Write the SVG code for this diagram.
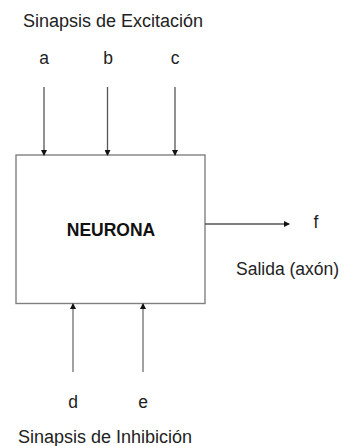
<svg xmlns="http://www.w3.org/2000/svg" width="348" height="446" viewBox="0 0 348 446">
<style>
text{font-family:"Liberation Sans",Arial,sans-serif;font-size:17.5px;fill:#222}
.t{font-size:18px}
.c{text-anchor:middle}
.b{font-weight:bold;fill:#111}
.ln{stroke:#555;stroke-width:1.3;fill:none}
.lg{stroke:#8a8a8a;stroke-width:1.6;fill:none}
</style>
<defs>
<marker id="ah" markerWidth="6" markerHeight="6" refX="5" refY="3" orient="auto" markerUnits="userSpaceOnUse">
<path d="M0,0 L6,3 L0,6 Z" fill="#111"/>
</marker>
</defs>
<rect width="348" height="446" fill="#fff"/>
<text x="23" y="27" class="t">Sinapsis de Excitación</text>
<text x="44" y="64" class="c">a</text>
<text x="108" y="64" class="c">b</text>
<text x="175" y="64" class="c">c</text>
<g id="neurona">
<rect x="16" y="155" width="189" height="148.5" fill="#fff" stroke="#808080" stroke-width="1.4"/>
<text x="111" y="236" class="c b">NEURONA</text>
</g>
<g id="connectors">
<line x1="44" y1="87" x2="44" y2="155" class="ln" marker-end="url(#ah)"/>
<line x1="107.5" y1="87" x2="107.5" y2="155" class="ln" marker-end="url(#ah)"/>
<line x1="175" y1="87" x2="175" y2="155" class="ln" marker-end="url(#ah)"/>
<line x1="205" y1="224" x2="289" y2="224" class="ln" marker-end="url(#ah)"/>
<line x1="73" y1="372" x2="73" y2="304" class="lg" marker-end="url(#ah)"/>
<line x1="143" y1="372" x2="143" y2="304" class="lg" marker-end="url(#ah)"/>
</g>
<text x="316" y="228" class="c">f</text>
<text x="236" y="275">Salida (axón)</text>
<text x="73" y="408" class="c">d</text>
<text x="143" y="408" class="c">e</text>
<text x="18" y="443" class="t">Sinapsis de Inhibición</text>
</svg>
